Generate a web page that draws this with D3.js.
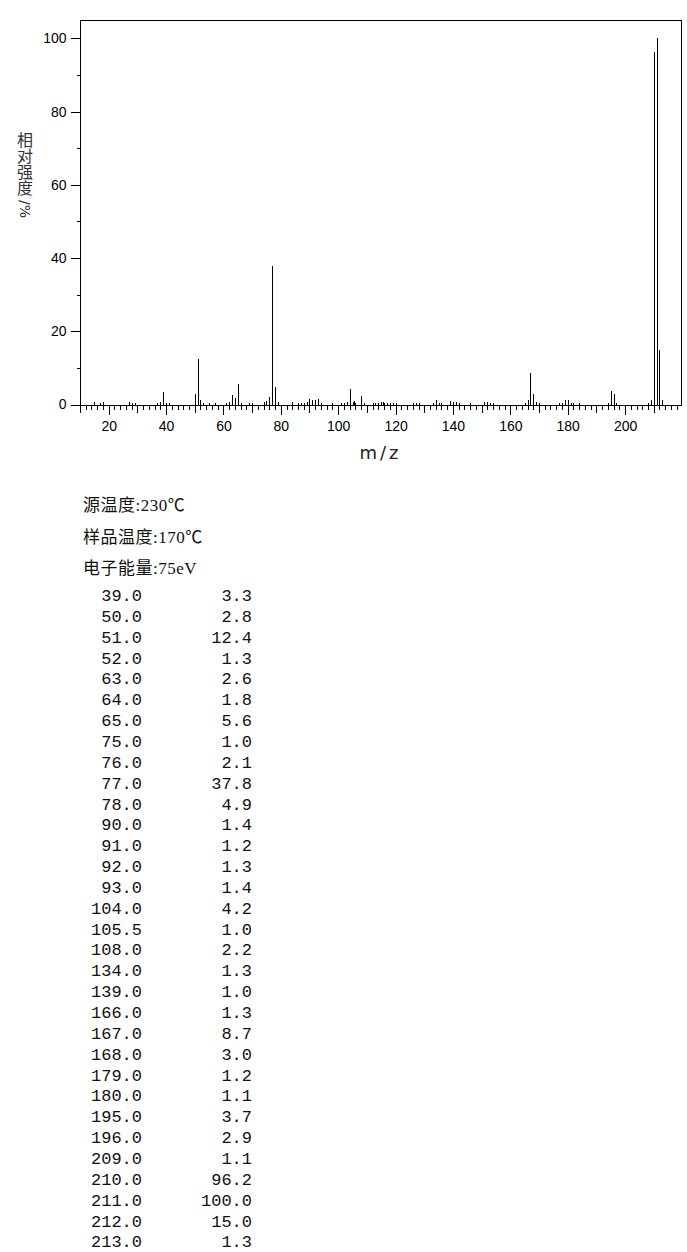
<!DOCTYPE html>
<html>
<head>
<meta charset="utf-8">
<script src="https://cdn.jsdelivr.net/npm/d3@7"></script>
<style>
  body { margin: 0; background: #fff; }
  svg { display: block; }
</style>
</head>
<body>
<div class="chart"></div>
<script>
var svgWidth = 687;
var svgHeight = 1252;

// listed peaks (also shown in the table)
var peakMz = [39, 50, 51, 52, 63, 64, 65, 75, 76, 77, 78, 90, 91, 92, 93, 104, 105.5, 108,
  134, 139, 166, 167, 168, 179, 180, 195, 196, 209, 210, 211, 212, 213];
var peakRel = [3.3, 2.8, 12.4, 1.3, 2.6, 1.8, 5.6, 1.0, 2.1, 37.8, 4.9, 1.4, 1.2, 1.3, 1.4, 4.2, 1.0, 2.2,
  1.3, 1.0, 1.3, 8.7, 3.0, 1.2, 1.1, 3.7, 2.9, 1.1, 96.2, 100.0, 15.0, 1.3];

// small peaks below 1% (not in the table)
var minorMz = [15, 17, 18, 27, 28, 29, 37, 38, 40, 41, 53, 55, 57, 61, 62, 66, 69, 70, 74, 79,
  84, 86, 87, 88, 89, 94, 98, 101, 102, 103, 105, 106, 109, 112, 113, 114, 115, 115.5, 116, 117,
  118, 119, 120, 126, 127, 128, 133, 135, 136, 140, 141, 142, 146, 151, 152, 153, 154, 165, 169,
  170, 177, 178, 181, 182, 184, 194, 197, 208];
var minorRel = [0.8, 0.3, 0.6, 0.8, 0.3, 0.3, 0.3, 0.8, 0.3, 0.3, 0.3, 0.3, 0.3, 0.4, 0.8, 0.5, 0.3, 0.3, 0.8, 0.8,
  0.7, 0.3, 0.3, 0.3, 0.6, 0.4, 0.3, 0.3, 0.5, 0.8, 0.7, 0.3, 0.3, 0.3, 0.3, 0.3, 0.8, 0.8, 0.3, 0.3,
  0.3, 0.5, 0.3, 0.3, 0.3, 0.3, 0.3, 0.3, 0.3, 0.7, 0.7, 0.3, 0.3, 0.8, 0.8, 0.5, 0.3, 0.4, 0.8,
  0.3, 0.3, 0.5, 0.3, 0.3, 0.3, 0.5, 0.5, 0.3];

var infoLines = ["源温度:230℃", "样品温度:170℃", "电子能量:75eV"];

var svg = d3.select(".chart")
  .append("svg")
  .attr("width", svgWidth)
  .attr("height", svgHeight);

var x = d3.scaleLinear().domain([10, 219.5]).range([80, 681]);
var y = d3.scaleLinear().domain([0, 105]).range([404.5, 20]);

// frame
svg.append("rect")
  .attr("x", x(10) + 0.5)
  .attr("y", y(105) + 0.5)
  .attr("width", x(219.5) - x(10))
  .attr("height", y(0) - y(105))
  .attr("fill", "none")
  .attr("stroke", "#000")
  .attr("shape-rendering", "crispEdges");

// y axis: labelled every 20, minor ticks between
svg.append("g")
  .attr("transform", "translate(80.5,0)")
  .call(d3.axisLeft(y).tickValues(d3.range(0, 101, 20)).tickSize(10).tickPadding(4));
svg.append("g")
  .attr("transform", "translate(80.5,0)")
  .call(d3.axisLeft(y).tickValues(d3.range(10, 100, 20)).tickSize(4).tickFormat(""));

// x axis: every 2 / 10 / 20
var xBase = y(0);
svg.append("g")
  .attr("transform", `translate(0,${xBase})`)
  .call(d3.axisBottom(x).tickValues(d3.range(10, 219, 2)).tickSize(5).tickFormat(""));
svg.append("g")
  .attr("transform", `translate(0,${xBase})`)
  .call(d3.axisBottom(x).tickValues(d3.range(10, 219, 10)).tickSize(8).tickFormat(""));
svg.append("g")
  .attr("transform", `translate(0,${xBase})`)
  .call(d3.axisBottom(x).tickValues(d3.range(20, 219, 20)).tickSize(10).tickPadding(7));

svg.selectAll(".domain").remove();
svg.selectAll(".tick line").attr("shape-rendering", "crispEdges").attr("stroke", "#000");
svg.selectAll(".tick text")
  .attr("font-family", "'Liberation Sans', Arial, sans-serif")
  .attr("font-size", 14)
  .attr("fill", "#000");

// peaks
var allMz = peakMz.concat(minorMz);
var allRel = peakRel.concat(minorRel);
svg.append("g")
  .selectAll("line")
  .data(d3.range(allMz.length))
  .enter()
  .append("line")
  .attr("x1", i => Math.round(x(allMz[i])) + 0.5)
  .attr("x2", i => Math.round(x(allMz[i])) + 0.5)
  .attr("y1", y(0))
  .attr("y2", i => y(allRel[i]))
  .attr("stroke", "#000")
  .attr("shape-rendering", "crispEdges");

// axis titles
svg.append("text")
  .attr("x", (x(10) + x(219.5)) / 2)
  .attr("y", 459)
  .attr("text-anchor", "middle")
  .attr("font-family", "'DejaVu Sans', sans-serif")
  .attr("font-size", 18)
  .attr("letter-spacing", 3)
  .attr("fill", "#222")
  .text("m/z");

// vertical title: CJK stacked upright, "/%" turned sideways
svg.append("text")
  .attr("x", 25)
  .attr("y", 132)
  .style("writing-mode", "vertical-rl")
  .attr("font-family", "'Noto Sans CJK SC', sans-serif")
  .attr("font-size", 16)
  .attr("fill", "#333")
  .text("相对强度");
svg.append("text")
  .attr("transform", "translate(20,200) rotate(90)")
  .attr("font-family", "'DejaVu Sans', sans-serif")
  .attr("font-size", 14)
  .attr("fill", "#333")
  .text("/%");

// instrument info
svg.selectAll(".info")
  .data(infoLines)
  .enter()
  .append("text")
  .attr("class", "info")
  .attr("x", 83)
  .attr("y", (d, i) => 511 + i * 31.5)
  .attr("font-family", "'Liberation Serif', 'Noto Sans CJK SC', serif")
  .attr("font-size", 17)
  .attr("letter-spacing", 0.5)
  .attr("fill", "#111")
  .text(d => d);

// peak table
var rows = svg.append("g")
  .attr("font-family", "'Liberation Mono', 'Courier New', monospace")
  .attr("font-size", 17)
  .attr("fill", "#111");

rows.selectAll(".mz")
  .data(peakMz)
  .enter()
  .append("text")
  .attr("x", 142)
  .attr("y", (d, i) => 601 + i * 20.85)
  .attr("text-anchor", "end")
  .text(d => d.toFixed(1));

rows.selectAll(".rel")
  .data(peakRel)
  .enter()
  .append("text")
  .attr("x", 252)
  .attr("y", (d, i) => 601 + i * 20.85)
  .attr("text-anchor", "end")
  .text(d => d.toFixed(1));
</script>
</body>
</html>
